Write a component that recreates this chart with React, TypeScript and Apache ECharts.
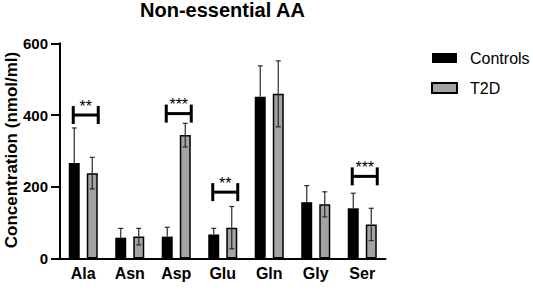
import React, { useEffect, useRef } from "react";
import * as echarts from "echarts";

const categories = ["Ala", "Asn", "Asp", "Glu", "Gln", "Gly", "Ser"];
const controlsMean = [266, 58, 61, 67, 451, 157, 140];
const controlsSD = [98, 26, 26, 17, 86, 46, 42];
const t2dMean = [238, 61, 344, 86, 459, 151, 95];
const t2dSD = [44, 23, 33, 59, 92, 35, 45];
const sigIndex = [0, 2, 3, 6];
const sigValue = [400, 404, 185, 229];
const sigLabel = ["**", "***", "**", "***"];
const yTicks = [0, 200, 400, 600];
const yAxisTitle = "Concentration (nmol/ml)";
const chartTitle = "Non-essential AA";

const FONT = '"Liberation Sans", Arial, Helvetica, sans-serif';

function errRender(offset: number, drawLower: boolean) {
  return (params: any, api: any) => {
    const idx = api.value(0);
    const mean = api.value(1);
    const sd = api.value(2);
    const c = api.coord([idx, mean]);
    const t = api.coord([idx, mean + sd]);
    const b = api.coord([idx, Math.max(0, mean - sd)]);
    const x = c[0] + offset;
    const style = { stroke: "#2a2a2a", lineWidth: 1.2 };
    const children: any[] = [
      { type: "line", shape: { x1: x, y1: c[1], x2: x, y2: t[1] }, style },
      { type: "line", shape: { x1: x - 2.5, y1: t[1], x2: x + 2.5, y2: t[1] }, style },
    ];
    if (drawLower) {
      children.push(
        { type: "line", shape: { x1: x, y1: c[1], x2: x, y2: b[1] }, style },
        { type: "line", shape: { x1: x - 2.5, y1: b[1], x2: x + 2.5, y2: b[1] }, style }
      );
    }
    return { type: "group", children };
  };
}

function sigRender(params: any, api: any) {
  const idx = api.value(0);
  const val = api.value(1);
  const c = api.coord([idx, val]);
  const x1 = c[0] - 10;
  const x2 = c[0] + 15;
  const y = c[1];
  const style = { stroke: "#000", lineWidth: 3 };
  return {
    type: "group",
    children: [
      { type: "line", shape: { x1, y1: y, x2, y2: y }, style },
      { type: "line", shape: { x1, y1: y - 9, x2: x1, y2: y + 9 }, style },
      { type: "line", shape: { x1: x2, y1: y - 9, x2, y2: y + 9 }, style },
      {
        type: "text",
        x: (x1 + x2) / 2,
        y: y - 9,
        style: {
          text: sigLabel[params.dataIndex],
          fill: "#000",
          font: `16px ${FONT}`,
          textAlign: "center",
          textVerticalAlign: "middle",
        },
      },
    ],
  };
}

export default function App() {
  const ref = useRef<HTMLDivElement>(null);
  useEffect(() => {
    if (!ref.current) return;
    const chart = echarts.init(ref.current, null, { renderer: "svg" });
    chart.setOption({
      animation: false,
      backgroundColor: "#fff",
      textStyle: { fontFamily: FONT },
      graphic: [
        {
          type: "text",
          x: 222.5,
          y: 10,
          style: {
            text: chartTitle,
            font: `bold 20px ${FONT}`,
            fill: "#000",
            textAlign: "center",
            textVerticalAlign: "middle",
          },
        },
        {
          type: "text",
          x: 11,
          y: 150,
          rotation: Math.PI / 2,
          style: {
            text: yAxisTitle,
            font: `bold 17px ${FONT}`,
            fill: "#000",
            textAlign: "center",
            textVerticalAlign: "middle",
          },
        },
      ],
      legend: {
        data: ["Controls", "T2D"],
        orient: "vertical",
        left: 431,
        top: 50,
        padding: 0,
        itemWidth: 25,
        itemHeight: 10,
        itemGap: 14,
        icon: "rect",
        textStyle: { fontSize: 16, color: "#000", fontFamily: FONT, lineHeight: 16, padding: [0, 0, 0, 8] },
      },
      grid: { left: 60, top: 43.3, width: 325.5, height: 215.2, outerBoundsMode: "none", containLabel: false },
      xAxis: {
        type: "category",
        data: categories,
        axisLine: { lineStyle: { color: "#000", width: 2 } },
        axisTick: { alignWithLabel: true, length: 8, lineStyle: { color: "#000", width: 2 } },
        axisLabel: { margin: 7, fontSize: 16, fontWeight: "bold", color: "#000", fontFamily: FONT },
      },
      yAxis: {
        type: "value",
        min: yTicks[0],
        max: yTicks[yTicks.length - 1],
        interval: 200,
        axisLine: { show: true, lineStyle: { color: "#000", width: 2 } },
        axisTick: { show: true, length: 9, lineStyle: { color: "#000", width: 2 } },
        axisLabel: { margin: 12, fontSize: 15, fontWeight: "bold", color: "#000", fontFamily: FONT },
        splitLine: { show: false },
      },
      series: [
        {
          name: "Controls",
          type: "bar",
          data: controlsMean,
          barWidth: 11,
          barGap: "64%",
          itemStyle: { color: "#000" },
        },
        {
          name: "T2D",
          type: "bar",
          data: t2dMean,
          barWidth: 11,
          itemStyle: { color: "#a3a3a3", borderColor: "#000", borderWidth: 1.5 },
        },
        {
          type: "custom",
          renderItem: errRender(-9, false),
          data: controlsMean.map((m, i) => [i, m, controlsSD[i]]),
          encode: { x: 0, y: 1 },
          z: 5,
        },
        {
          type: "custom",
          renderItem: errRender(9, true),
          data: t2dMean.map((m, i) => [i, m, t2dSD[i]]),
          encode: { x: 0, y: 1 },
          z: 5,
        },
        {
          type: "custom",
          renderItem: sigRender,
          data: sigIndex.map((c, i) => [c, sigValue[i]]),
          encode: { x: 0, y: 1 },
          z: 6,
        },
      ],
    });
    return () => chart.dispose();
  }, []);
  return <div ref={ref} style={{ position: "fixed", left: 0, top: 0, width: 533, height: 290 }} />;
}
